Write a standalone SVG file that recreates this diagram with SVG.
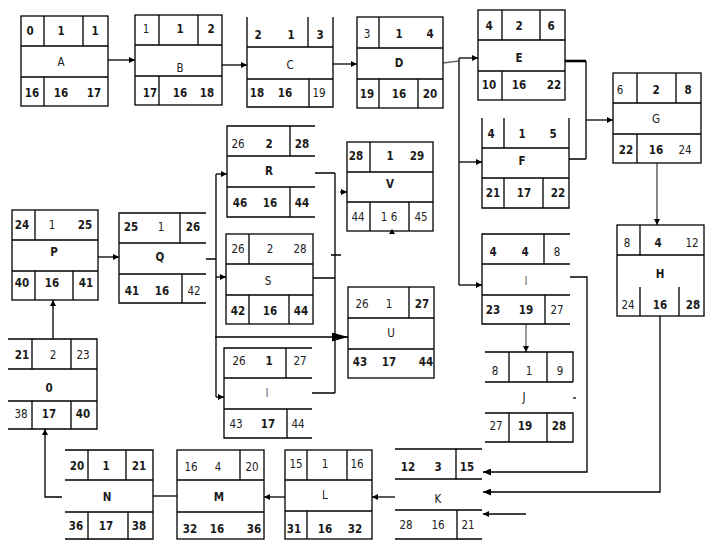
<svg xmlns="http://www.w3.org/2000/svg" width="720" height="540" viewBox="0 0 720 540">
<defs>
<style>
.b{fill:none;stroke:#000;stroke-width:1.3}
.c{fill:none;stroke:#000;stroke-width:1.3}
text{font-family:"DejaVu Sans Condensed","Liberation Sans Narrow","Liberation Sans",sans-serif;font-stretch:condensed;font-size:11.5px;font-weight:bold;text-anchor:middle;dominant-baseline:central;fill:#1a1a1a}
.l{font-weight:normal;fill:#222}
.g{font-weight:normal;fill:#666}
</style>
<marker id="a" viewBox="0 0 6 6" markerWidth="6" markerHeight="6" refX="6" refY="3" orient="auto" markerUnits="userSpaceOnUse"><path d="M0,0L6,3L0,6z" fill="#000"/></marker>
<marker id="m" viewBox="0 0 8 7" markerWidth="8" markerHeight="7" refX="8" refY="3.5" orient="auto" markerUnits="userSpaceOnUse"><path d="M0,0L8,3.5L0,7z" fill="#000"/></marker>
<marker id="big" viewBox="0 0 16 9" markerWidth="16" markerHeight="9" refX="16" refY="4.5" orient="auto" markerUnits="userSpaceOnUse"><path d="M0,0L16,4.5L0,9z" fill="#000"/></marker>
</defs>
<rect width="720" height="540" fill="#fff"/>

<g id="connectors">
<path class="c" d="M108 60H135" marker-end="url(#a)"/>
<path class="c" d="M222 65H247" marker-end="url(#a)"/>
<path class="c" d="M333 64H357" marker-end="url(#a)"/>
<path d="M443 63L459 61" fill="none" stroke="#666" stroke-width="1.3"/>
<path class="c" d="M459 58V285"/>
<path class="c" d="M459 58H478" marker-end="url(#a)"/>
<path class="c" d="M459 162H482" marker-end="url(#a)"/>
<path class="c" d="M459 285H482" marker-end="url(#a)"/>
<path d="M565 61H586" fill="none" stroke="#000" stroke-width="2.6"/>
<path class="c" d="M586 61V159M569 159H586"/>
<path class="c" d="M586 120H613" marker-end="url(#a)"/>
<path d="M657 163V225" fill="none" stroke="#444" stroke-width="1.3" marker-end="url(#a)"/>
<path class="c" d="M660 316V492H483" marker-end="url(#m)"/>
<path class="c" d="M570 277H587V472H483" marker-end="url(#m)"/>
<path d="M526 324V352" fill="none" stroke="#555" stroke-width="1.2" marker-end="url(#a)"/>
<path class="c" d="M573 398H576"/>
<path class="c" d="M526 514H483" marker-end="url(#a)"/>
<path class="c" d="M395 497H372" marker-end="url(#a)"/>
<path class="c" d="M285 497H264" marker-end="url(#a)"/>
<path class="c" d="M177 496H153"/>
<path class="c" d="M62 497H45V429" marker-end="url(#a)"/>
<path class="c" d="M53 339V300" marker-end="url(#a)"/>
<path class="c" d="M98 257H119" marker-end="url(#a)"/>
<path class="c" d="M206 259H216M216 174V397"/>
<path class="c" d="M216 174H227" marker-end="url(#a)"/>
<path class="c" d="M216 277H226" marker-end="url(#a)"/>
<path class="c" d="M216 397H224" marker-end="url(#a)"/>
<path class="c" d="M215 337H348" marker-end="url(#big)"/>
<path class="c" d="M315 173H335M313 278H335M312 393H335M335 173V393M331 255H341"/>
<path class="c" d="M340 192H347" marker-end="url(#a)"/>
<path d="M389 234L395 234L392 229z" fill="#000"/>
</g>

<g id="A">
<rect class="b" x="21" y="16" width="87" height="90"/>
<path class="b" d="M21 46H108M21 77H108M44 16V46M83 16V46M44 77V106"/>
<text x="30" y="31">0</text><text x="61" y="31">1</text><text x="95" y="31">1</text>
<text x="61" y="62" class="l">A</text>
<text x="32" y="93">16</text><text x="61" y="93">16</text><text x="94" y="93">17</text>
</g>

<g id="B">
<rect class="b" x="135" y="15" width="87" height="90"/>
<path class="b" d="M135 45H222M135 76H222M159 15V45M198 15V45M159 76V105"/>
<text x="146" y="29" class="l">1</text><text x="180" y="29">1</text><text x="211" y="29">2</text>
<text x="180" y="68" class="l">B</text>
<text x="150" y="93">17</text><text x="180" y="93">16</text><text x="207" y="93">18</text>
</g>

<g id="C">
<path class="b" d="M247 17V107H333V17M247 47H333M247 79H333M308 17V47M309 79V107"/>
<text x="258" y="35">2</text><text x="291" y="35">1</text><text x="320" y="35">3</text>
<text x="290" y="65" class="l">C</text>
<text x="257" y="93">18</text><text x="285" y="93">16</text><text x="319" y="93" class="l">19</text>
</g>

<g id="D">
<rect class="b" x="357" y="17" width="86" height="91"/>
<path class="b" d="M357 48H443M357 79H443M379 17V48M379 79V108M418 79V108"/>
<text x="367" y="34" class="l">3</text><text x="399" y="34">1</text><text x="430" y="34">4</text>
<text x="399" y="63">D</text>
<text x="367" y="94">19</text><text x="399" y="94">16</text><text x="430" y="94">20</text>
</g>

<g id="E">
<rect class="b" x="478" y="10" width="87" height="90"/>
<path class="b" d="M478 40H565M478 71H565M502 10V40M540 10V40M502 71V100"/>
<text x="489" y="26">4</text><text x="519" y="26">2</text><text x="551" y="26">6</text>
<text x="519" y="58">E</text>
<text x="489" y="85">10</text><text x="519" y="85">16</text><text x="554" y="85">22</text>
</g>

<g id="F">
<path class="b" d="M482 118V208H569V118M482 148H569M482 178H569M504 118V148M504 178V208M543 178V208"/>
<text x="491" y="134">4</text><text x="522" y="134">1</text><text x="553" y="134">5</text>
<text x="522" y="161">F</text>
<text x="493" y="193">21</text><text x="524" y="193">17</text><text x="558" y="193">22</text>
</g>

<g id="G">
<rect class="b" x="613" y="73" width="88" height="90"/>
<path class="b" d="M613 103H701M613 134H701M637 73V103M676 73V103M637 134V163"/>
<text x="620" y="90" class="l">6</text><text x="656" y="90">2</text><text x="688" y="90">8</text>
<text x="656" y="119" class="l">G</text>
<text x="626" y="150">22</text><text x="656" y="150">16</text><text x="685" y="150" class="l">24</text>
</g>

<g id="H">
<rect class="b" x="617" y="225" width="87" height="91"/>
<path class="b" d="M617 255H704M640 225V255M640 287V316M679 287V316"/>
<text x="627" y="243" class="l">8</text><text x="658" y="243">4</text><text x="692" y="243" class="l">12</text>
<text x="660" y="274">H</text>
<text x="628" y="305" class="l">24</text><text x="660" y="305">16</text><text x="693" y="305">28</text>
</g>

<g id="I">
<path class="b" d="M570 234H482V324H570M482 264H570M482 295H570M544 234V264M545 295V324"/>
<text x="493" y="252">4</text><text x="525" y="252">4</text><text x="557" y="252" class="l">8</text>
<text x="526" y="281" class="g">I</text>
<text x="493" y="310">23</text><text x="526" y="310">19</text><text x="557" y="310" class="l">27</text>
</g>

<g id="J">
<path class="b" d="M485 352H573V382M485 382H573M485 413H573V442H485M509 352V382M547 352V382M509 413V442M547 413V442"/>
<text x="495" y="371" class="l">8</text><text x="529" y="371" class="l">1</text><text x="560" y="371" class="l">9</text>
<text x="524" y="397" class="l">J</text>
<text x="496" y="426" class="l">27</text><text x="525" y="426">19</text><text x="559" y="426">28</text>
</g>

<g id="K">
<path class="b" d="M395 449H482M395 479H482M395 510H482M395 539H482M456 449V479M457 510V539"/>
<text x="408" y="467">12</text><text x="438" y="467">3</text><text x="467" y="467">15</text>
<text x="438" y="499" class="l">K</text>
<text x="406" y="525" class="l">28</text><text x="438" y="525" class="l">16</text><text x="468" y="525" class="l">21</text>
</g>

<g id="L">
<rect class="b" x="285" y="450" width="87" height="89"/>
<path class="b" d="M285 480H372M285 511H372M307 450V480M347 450V480M307 511V539"/>
<text x="296" y="464" class="l">15</text><text x="325" y="464" class="l">1</text><text x="357" y="464" class="l">16</text>
<text x="325" y="495" class="l">L</text>
<text x="294" y="529">31</text><text x="325" y="529">16</text><text x="355" y="529">32</text>
</g>

<g id="M">
<rect class="b" x="177" y="450" width="87" height="89"/>
<path class="b" d="M177 480H264M177 512H264M240 450V480"/>
<text x="191" y="467" class="l">16</text><text x="218" y="467" class="l">4</text><text x="252" y="467" class="l">20</text>
<text x="219" y="497">M</text>
<text x="190" y="529">32</text><text x="217" y="529">16</text><text x="254" y="529">36</text>
</g>

<g id="N">
<path class="b" d="M65 450H153V539H65M65 480H153M65 512H153M88 450V480M126 450V480M88 512V539M128 512V539"/>
<text x="77" y="466">20</text><text x="106" y="466">1</text><text x="139" y="466">21</text>
<text x="107" y="497">N</text>
<text x="76" y="526">36</text><text x="106" y="526">17</text><text x="139" y="526">38</text>
</g>

<g id="O">
<path class="b" d="M8 339H97V429H8M8 369H97M8 401H97M32 339V369M71 339V369M32 401V429M71 401V429"/>
<text x="22" y="355">21</text><text x="53" y="355" class="l">2</text><text x="83" y="355" class="l">23</text>
<text x="49" y="388">0</text>
<text x="21" y="414" class="l">38</text><text x="49" y="414">17</text><text x="83" y="414">40</text>
</g>

<g id="P">
<rect class="b" x="12" y="210" width="86" height="90"/>
<path class="b" d="M12 240H98M12 271H98M35 210V240M35 271V300M73 271V300"/>
<text x="22" y="225">24</text><text x="52" y="225" class="l">1</text><text x="85" y="225">25</text>
<text x="54" y="252">P</text>
<text x="22" y="283">40</text><text x="52" y="283">16</text><text x="86" y="283">41</text>
</g>

<g id="Q">
<path class="b" d="M206 213H119V303H206M119 243H206M119 274H206M180 213V243M182 274V303"/>
<text x="131" y="227">25</text><text x="161" y="227" class="l">1</text><text x="193" y="227">26</text>
<text x="160" y="257">Q</text>
<text x="132" y="291">41</text><text x="162" y="291">16</text><text x="194" y="291" class="l">42</text>
</g>

<g id="R">
<path class="b" d="M315 126H227V217H315M227 156H315M227 187H315M290 126V156M290 187V217"/>
<text x="238" y="144" class="l">26</text><text x="269" y="144">2</text><text x="302" y="144">28</text>
<text x="269" y="171">R</text>
<text x="240" y="203">46</text><text x="270" y="203">16</text><text x="302" y="203">44</text>
</g>

<g id="S">
<rect class="b" x="226" y="234" width="87" height="90"/>
<path class="b" d="M226 264H313M226 295H313M249 234V264M249 295V324M289 295V324"/>
<text x="238" y="249" class="l">26</text><text x="270" y="249" class="l">2</text><text x="300" y="249" class="l">28</text>
<text x="268" y="281" class="l">S</text>
<text x="238" y="311">42</text><text x="270" y="311">16</text><text x="301" y="311">44</text>
</g>

<g id="T">
<path class="b" d="M312 348H224V438H312M224 378H312M224 409H312M286 348V378M287 409V438"/>
<text x="239" y="361" class="l">26</text><text x="269" y="361">1</text><text x="300" y="361" class="l">27</text>
<text x="267" y="393" class="g">I</text>
<text x="236" y="424" class="l">43</text><text x="268" y="424">17</text><text x="298" y="424" class="l">44</text>
</g>

<g id="U">
<rect class="b" x="348" y="287" width="86" height="91"/>
<path class="b" d="M348 318H434M348 349H434M409 287V318"/>
<text x="362" y="304" class="l">26</text><text x="389" y="304" class="l">1</text><text x="422" y="304">27</text>
<text x="391" y="333" class="l">U</text>
<text x="360" y="362">43</text><text x="389" y="362">17</text><text x="426" y="362">44</text>
</g>

<g id="V">
<rect class="b" x="347" y="142" width="86" height="89"/>
<path class="b" d="M347 172H433M347 202H433M370 142V172M370 202V231M409 202V231"/>
<text x="356" y="156">28</text><text x="390" y="156">1</text><text x="417" y="156">29</text>
<text x="390" y="184">V</text>
<text x="358" y="217" class="l">44</text><text x="389" y="217" class="l">1 6</text><text x="421" y="217" class="l">45</text>
</g>
</svg>
